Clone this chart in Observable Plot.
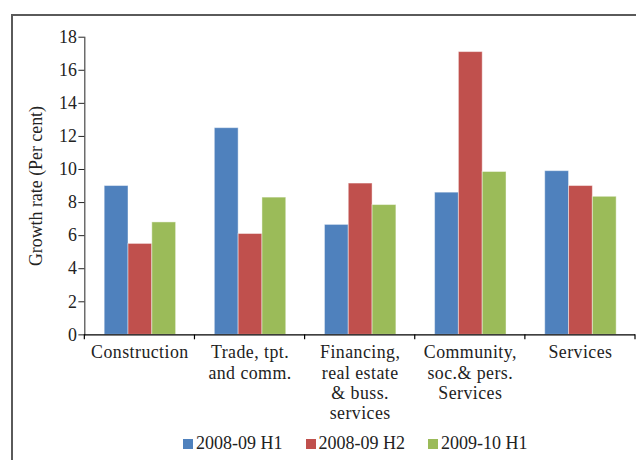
<!DOCTYPE html>
<html>
<head>
<meta charset="utf-8">
<script src="https://cdn.jsdelivr.net/npm/d3@7"></script>
<script src="https://cdn.jsdelivr.net/npm/@observablehq/plot@0.6"></script>
<style>
  html, body { margin: 0; padding: 0; background: #fff; overflow: hidden; width: 636px; height: 460px; }
  #wrap { position: relative; width: 636px; height: 460px; overflow: hidden; }
  #frame { position: absolute; left: 11px; top: 14px; width: 700px; height: 600px; border-left: 2px solid #5a5a5a; border-top: 2px solid #5a5a5a; }
  #chart { position: absolute; left: 0; top: 0; }
  #legend { position: absolute; left: 183px; top: 432px; display: flex; font-family: "Liberation Serif", serif; font-size: 18px; color: #222; line-height: 22px; white-space: nowrap; }
  #legend .item { display: flex; align-items: center; margin-right: 23px; }
  #legend .sw { width: 10px; height: 10px; margin-right: 3px; margin-top: 1px; }
</style>
</head>
<body>
<div id="wrap">
  <div id="frame"></div>
  <div id="chart"></div>
  <div id="legend"></div>
</div>
<script>
const categories = ["Construction", "Trade, tpt.\nand comm.", "Financing,\nreal estate\n& buss.\nservices", "Community,\nsoc.& pers.\nServices", "Services"];
const series = ["2008-09 H1", "2008-09 H2", "2009-10 H1"];
const values0809H1 = [9.0, 12.5, 6.65, 8.6, 9.9];
const values0809H2 = [5.5, 6.1, 9.15, 17.1, 9.0];
const values0910H1 = [6.8, 8.3, 7.85, 9.85, 8.35];
const colors = ["#4F81BD", "#C0504D", "#9BBB59"];
const yTicks = [0, 2, 4, 6, 8, 10, 12, 14, 16, 18];

const seriesValues = [values0809H1, values0809H2, values0910H1];
const data = [];
categories.forEach((c, i) => {
  series.forEach((s, j) => data.push({category: c, series: s, value: seriesValues[j][i]}));
});

const chart = Plot.plot({
  width: 641,
  height: 460,
  marginLeft: 84,
  marginRight: 0,
  marginTop: 37,
  marginBottom: 123,
  style: {fontFamily: "'Liberation Serif', serif", fontSize: "18px", color: "#222", background: "transparent", overflow: "visible"},
  fx: {domain: categories, padding: 0, label: null},
  x: {domain: series, paddingInner: 0, paddingOuter: 0.757, axis: null},
  y: {domain: [0, 18], ticks: yTicks, line: true, tickSize: 6, tickPadding: 2, label: "Growth rate (Per cent)", labelAnchor: "center", labelOffset: 56, labelArrow: "none"},
  color: {domain: series, range: colors},
  marks: [
    Plot.barY(data, {fx: "category", x: "series", y: "value", fill: "series", stroke: "#fff", strokeOpacity: 0.45, strokeWidth: 1}),
    Plot.ruleY([0], {stroke: "#000", strokeWidth: 1.2}),
    Plot.axisFx({anchor: "bottom", tickSize: 0, tickPadding: 9, label: null, lineHeight: 1.14, fontSize: 18})
  ]
});

document.getElementById("chart").appendChild(chart);

const svgEl = chart.tagName.toLowerCase() === "svg" ? chart : chart.querySelector("svg");
// slightly wider letter spacing on category labels
d3.select(svgEl).selectAll("[aria-label='fx-axis tick label'] text").style("letter-spacing", "0.45px");

// category boundary ticks under the x axis
const fxs = chart.scale("fx");
const ys = chart.scale("y");
const y0 = ys.apply ? ys.apply(0) : ys.range[0];
const step = fxs.step;
const edges = categories.map(c => fxs.apply ? fxs.apply(c) : fxs.range[0] + categories.indexOf(c) * step);
edges.push(edges[edges.length - 1] + step);
d3.select(svgEl).append("g").attr("stroke", "#000").attr("stroke-width", 1.2)
  .selectAll("line").data(edges).join("line")
  .attr("x1", d => d).attr("x2", d => d)
  .attr("y1", y0).attr("y2", y0 + 5);

// legend
const legend = d3.select("#legend");
series.forEach((s, i) => {
  const item = legend.append("div").attr("class", "item");
  item.append("div").attr("class", "sw").style("background", colors[i]);
  item.append("span").text(s);
});
</script>
</body>
</html>
